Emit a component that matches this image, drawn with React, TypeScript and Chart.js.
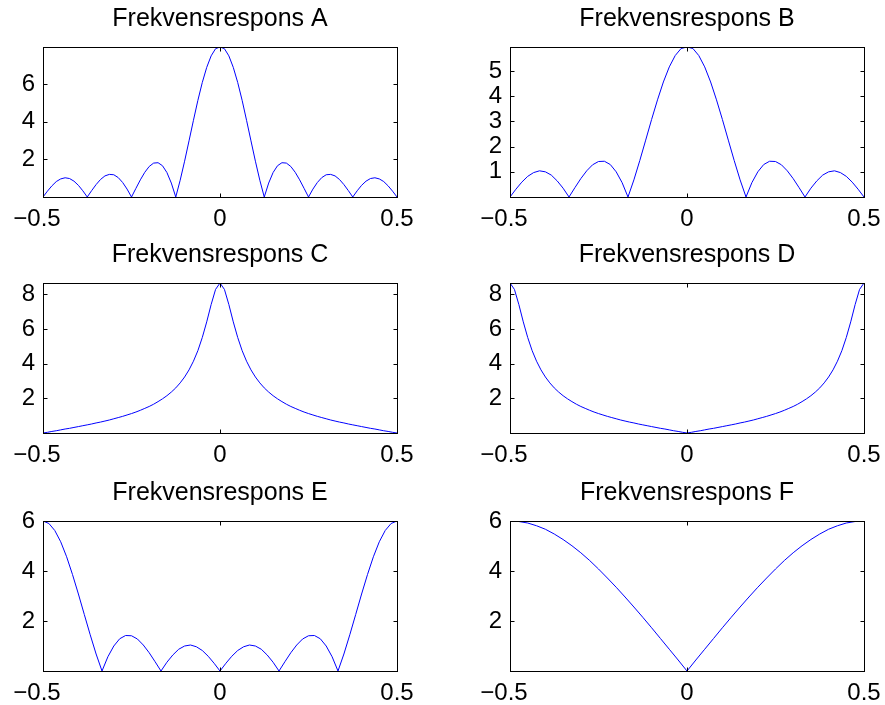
import React, { useEffect, useRef } from "react";
import { Chart, registerables } from "chart.js";

Chart.register(...registerables);

const FONT = "'Liberation Sans', Arial, Helvetica, sans-serif";

// Normalised frequency grids (cycles/sample)
const freqFine = [
  -0.5, -0.4875, -0.475, -0.4625, -0.45, -0.4375, -0.425, -0.4125, -0.4, -0.3875,
  -0.375, -0.3625, -0.35, -0.3375, -0.325, -0.3125, -0.3, -0.2875, -0.275, -0.2625,
  -0.25, -0.2375, -0.225, -0.2125, -0.2, -0.1875, -0.175, -0.1625, -0.15, -0.1375,
  -0.125, -0.1125, -0.1, -0.0875, -0.075, -0.0625, -0.05, -0.0375, -0.025, -0.0125,
  0,
  0.0125, 0.025, 0.0375, 0.05, 0.0625, 0.075, 0.0875, 0.1, 0.1125, 0.125,
  0.1375, 0.15, 0.1625, 0.175, 0.1875, 0.2, 0.2125, 0.225, 0.2375, 0.25,
  0.2625, 0.275, 0.2875, 0.3, 0.3125, 0.325, 0.3375, 0.35, 0.3625, 0.375,
  0.3875, 0.4, 0.4125, 0.425, 0.4375, 0.45, 0.4625, 0.475, 0.4875, 0.5,
];

const freqSixtieths = [
  -0.5, -0.4833, -0.4667, -0.45, -0.4333, -0.4167, -0.4, -0.3833, -0.3667, -0.35,
  -0.3333, -0.3167, -0.3, -0.2833, -0.2667, -0.25, -0.2333, -0.2167, -0.2, -0.1833,
  -0.1667, -0.15, -0.1333, -0.1167, -0.1, -0.0833, -0.0667, -0.05, -0.0333, -0.0167,
  0,
  0.0167, 0.0333, 0.05, 0.0667, 0.0833, 0.1, 0.1167, 0.1333, 0.15, 0.1667,
  0.1833, 0.2, 0.2167, 0.2333, 0.25, 0.2667, 0.2833, 0.3, 0.3167, 0.3333,
  0.35, 0.3667, 0.3833, 0.4, 0.4167, 0.4333, 0.45, 0.4667, 0.4833, 0.5,
];

const freqCoarse = [
  -0.5, -0.475, -0.45, -0.425, -0.4, -0.375, -0.35, -0.325, -0.3, -0.275,
  -0.25, -0.225, -0.2, -0.175, -0.15, -0.125, -0.1, -0.075, -0.05, -0.025,
  0,
  0.025, 0.05, 0.075, 0.1, 0.125, 0.15, 0.175, 0.2, 0.225, 0.25,
  0.275, 0.3, 0.325, 0.35, 0.375, 0.4, 0.425, 0.45, 0.475, 0.5,
];

// Magnitudes
const responseA = [
  0, 0.31, 0.59, 0.82, 0.96, 1.02, 0.98, 0.84, 0.62, 0.33,
  0, 0.34, 0.66, 0.93, 1.12, 1.2, 1.18, 1.03, 0.77, 0.42,
  0, 0.46, 0.91, 1.31, 1.62, 1.8, 1.82, 1.66, 1.3, 0.74,
  0, 0.89, 1.9, 2.98, 4.07, 5.13, 6.08, 6.88, 7.49, 7.87,
  7.96,
  7.87, 7.49, 6.88, 6.08, 5.13, 4.07, 2.98, 1.9, 0.89, 0,
  0.74, 1.3, 1.66, 1.82, 1.8, 1.62, 1.31, 0.91, 0.46, 0,
  0.42, 0.77, 1.03, 1.18, 1.2, 1.12, 0.93, 0.66, 0.34, 0,
  0.33, 0.62, 0.84, 0.98, 1.02, 0.96, 0.82, 0.59, 0.31, 0,
];

const responseB = [
  0, 0.31, 0.59, 0.82, 0.97, 1.04, 1.0, 0.87, 0.64, 0.35,
  0, 0.37, 0.73, 1.04, 1.28, 1.41, 1.42, 1.29, 1.0, 0.57,
  0, 0.68, 1.45, 2.26, 3.08, 3.86, 4.57, 5.17, 5.62, 5.9,
  5.96,
  5.9, 5.62, 5.17, 4.57, 3.86, 3.08, 2.26, 1.45, 0.68, 0,
  0.57, 1.0, 1.29, 1.42, 1.41, 1.28, 1.04, 0.73, 0.37, 0,
  0.35, 0.64, 0.87, 1.0, 1.04, 0.97, 0.82, 0.59, 0.31, 0,
];

const responseC = [
  0, 0.04, 0.09, 0.13, 0.18, 0.23, 0.27, 0.32, 0.37, 0.42,
  0.47, 0.52, 0.58, 0.63, 0.69, 0.75, 0.82, 0.89, 0.96, 1.04,
  1.12, 1.21, 1.31, 1.42, 1.53, 1.66, 1.81, 1.97, 2.15, 2.36,
  2.6, 2.89, 3.23, 3.64, 4.14, 4.75, 5.51, 6.41, 7.41, 8.28,
  8.65,
  8.28, 7.41, 6.41, 5.51, 4.75, 4.14, 3.64, 3.23, 2.89, 2.6,
  2.36, 2.15, 1.97, 1.81, 1.66, 1.53, 1.42, 1.31, 1.21, 1.12,
  1.04, 0.96, 0.89, 0.82, 0.75, 0.69, 0.63, 0.58, 0.52, 0.47,
  0.42, 0.37, 0.32, 0.27, 0.23, 0.18, 0.13, 0.09, 0.04, 0,
];

const responseD = [
  8.65, 8.28, 7.41, 6.41, 5.51, 4.75, 4.14, 3.64, 3.23, 2.89,
  2.6, 2.36, 2.15, 1.97, 1.81, 1.66, 1.53, 1.42, 1.31, 1.21,
  1.12, 1.04, 0.96, 0.89, 0.82, 0.75, 0.69, 0.63, 0.58, 0.52,
  0.47, 0.42, 0.37, 0.32, 0.27, 0.23, 0.18, 0.13, 0.09, 0.04,
  0,
  0.04, 0.09, 0.13, 0.18, 0.23, 0.27, 0.32, 0.37, 0.42, 0.47,
  0.52, 0.58, 0.63, 0.69, 0.75, 0.82, 0.89, 0.96, 1.04, 1.12,
  1.21, 1.31, 1.42, 1.53, 1.66, 1.81, 1.97, 2.15, 2.36, 2.6,
  2.89, 3.23, 3.64, 4.14, 4.75, 5.51, 6.41, 7.41, 8.28, 8.65,
];

const responseE = [
  6.0, 5.9, 5.62, 5.17, 4.57, 3.86, 3.08, 2.26, 1.45, 0.68,
  0, 0.57, 1.0, 1.29, 1.42, 1.41, 1.28, 1.04, 0.73, 0.37,
  0, 0.35, 0.64, 0.87, 1.0, 1.04, 0.97, 0.82, 0.59, 0.31,
  0,
  0.31, 0.59, 0.82, 0.97, 1.04, 1.0, 0.87, 0.64, 0.35, 0,
  0.37, 0.73, 1.04, 1.28, 1.41, 1.42, 1.29, 1.0, 0.57, 0,
  0.68, 1.45, 2.26, 3.08, 3.86, 4.57, 5.17, 5.62, 5.9, 6.0,
];

const responseF = [
  6.0, 5.98, 5.92, 5.81, 5.67, 5.48, 5.26, 5.01, 4.73, 4.42,
  4.08, 3.72, 3.35, 2.96, 2.56, 2.15, 1.73, 1.3, 0.87, 0.44,
  0,
  0.44, 0.87, 1.3, 1.73, 2.15, 2.56, 2.96, 3.35, 3.72, 4.08,
  4.42, 4.73, 5.01, 5.26, 5.48, 5.67, 5.81, 5.92, 5.98, 6.0,
];

const xTickValues = [-0.5, 0, 0.5];
const xTickLabels = ["\u22120.5\u2002", "0", "0.5"];

const yTicksA = [2, 4, 6];
const yTicksB = [1, 2, 3, 4, 5];
const yTicksC = [2, 4, 6, 8];
const yTicksD = [2, 4, 6, 8];
const yTicksE = [2, 4, 6];
const yTicksF = [2, 4, 6];

const yMaxA = 7.96;
const yMaxB = 5.96;
const yMaxC = 8.65;
const yMaxD = 8.65;
const yMaxE = 6;
const yMaxF = 6;

const titles = [
  "Frekvensrespons A",
  "Frekvensrespons B",
  "Frekvensrespons C",
  "Frekvensrespons D",
  "Frekvensrespons E",
  "Frekvensrespons F",
];

type Panel = {
  title: string;
  freq: number[];
  values: number[];
  yMax: number;
  yTicks: number[];
  col: number;
  row: number;
};

const panels: Panel[] = [
  { title: titles[0], freq: freqFine, values: responseA, yMax: yMaxA, yTicks: yTicksA, col: 0, row: 0 },
  { title: titles[1], freq: freqSixtieths, values: responseB, yMax: yMaxB, yTicks: yTicksB, col: 1, row: 0 },
  { title: titles[2], freq: freqFine, values: responseC, yMax: yMaxC, yTicks: yTicksC, col: 0, row: 1 },
  { title: titles[3], freq: freqFine, values: responseD, yMax: yMaxD, yTicks: yTicksD, col: 1, row: 1 },
  { title: titles[4], freq: freqSixtieths, values: responseE, yMax: yMaxE, yTicks: yTicksE, col: 0, row: 2 },
  { title: titles[5], freq: freqCoarse, values: responseF, yMax: yMaxF, yTicks: yTicksF, col: 1, row: 2 },
];

// Layout geometry
const colLeft = [0, 440];
const colWidth = [420, 445];
const colAxisWidth = [43, 70];
const colPadRight = [23, 21];
const rowTop = [0, 236, 474];
const CANVAS_H = 233;
const X_AXIS_H = 36;
const TICK_LEN = 4;

const matlabAxes = {
  id: "matlabAxes",
  afterDraw(chart: any) {
    const { ctx, chartArea, scales } = chart;
    const l = Math.round(chartArea.left) + 0.5;
    const r = Math.round(chartArea.right) + 0.5;
    const t = Math.round(chartArea.top) + 0.5;
    const b = Math.round(chartArea.bottom) + 0.5;
    ctx.save();
    ctx.strokeStyle = "#000";
    ctx.lineWidth = 1;
    ctx.strokeRect(l, t, r - l, b - t);
    ctx.beginPath();
    const yTicks: number[] = chart.options.plugins.matlabAxes.yTicks;
    for (const v of yTicks) {
      const py = Math.round(scales.y.getPixelForValue(v)) + 0.5;
      ctx.moveTo(l, py);
      ctx.lineTo(l + TICK_LEN, py);
      ctx.moveTo(r, py);
      ctx.lineTo(r - TICK_LEN, py);
    }
    for (const v of xTickValues) {
      const px = Math.round(scales.x.getPixelForValue(v)) + 0.5;
      ctx.moveTo(px, b);
      ctx.lineTo(px, b - TICK_LEN);
      ctx.moveTo(px, t);
      ctx.lineTo(px, t + TICK_LEN);
    }
    ctx.stroke();
    ctx.restore();
  },
};

function PanelChart({ p }: { p: Panel }) {
  const ref = useRef<HTMLCanvasElement | null>(null);
  useEffect(() => {
    if (!ref.current) return;
    const data = p.freq.map((f, i) => ({ x: f, y: p.values[i] }));
    const chart = new Chart(ref.current, {
      type: "line",
      data: {
        datasets: [
          {
            data,
            borderColor: "#0000ff",
            borderWidth: 1,
            pointRadius: 0,
            tension: 0,
            fill: false,
          },
        ],
      },
      options: {
        animation: false,
        responsive: false,
        maintainAspectRatio: false,
        events: [],
        layout: { padding: { top: 4.3, left: 0, right: colPadRight[p.col], bottom: 0 } },
        plugins: {
          legend: { display: false },
          tooltip: { enabled: false },
          title: {
            display: true,
            text: p.title,
            fullSize: false,
            color: "#000",
            font: { family: FONT, size: 25, weight: "normal", lineHeight: 1.2 },
            padding: { top: 0, bottom: 12.7 },
          },
          matlabAxes: { yTicks: p.yTicks },
        } as any,
        scales: {
          x: {
            type: "linear",
            min: -0.5,
            max: 0.5,
            grid: { display: false, drawTicks: false },
            border: { display: false },
            afterBuildTicks: (s: any) => {
              s.ticks = xTickValues.map((v) => ({ value: v }));
            },
            afterFit: (s: any) => {
              s.height = X_AXIS_H;
              s.paddingLeft = 0;
              s.paddingRight = 0;
            },
            ticks: {
              autoSkip: false,
              maxRotation: 0,
              minRotation: 0,
              padding: 8,
              color: "#000",
              font: { family: FONT, size: 24 },
              callback: (_v: any, i: number) => xTickLabels[i],
            },
          },
          y: {
            type: "linear",
            min: 0,
            max: p.yMax,
            grid: { display: false, drawTicks: false },
            border: { display: false },
            afterBuildTicks: (s: any) => {
              s.ticks = p.yTicks.map((v) => ({ value: v }));
            },
            afterFit: (s: any) => {
              s.width = colAxisWidth[p.col];
              s.paddingTop = 0;
              s.paddingBottom = 0;
            },
            ticks: {
              autoSkip: false,
              padding: 8,
              color: "#000",
              font: { family: FONT, size: 24 },
              callback: (v: any) => String(v),
            },
          },
        },
      },
      plugins: [matlabAxes],
    } as any);
    return () => chart.destroy();
  }, [p]);

  const w = colWidth[p.col];
  return (
    <canvas
      ref={ref}
      width={w}
      height={CANVAS_H}
      style={{
        position: "absolute",
        left: colLeft[p.col],
        top: rowTop[p.row],
        width: w,
        height: CANVAS_H,
      }}
    />
  );
}

export default function App() {
  return (
    <div
      style={{
        position: "fixed",
        left: 0,
        top: 0,
        width: 885,
        height: 705,
        background: "#fff",
        overflow: "hidden",
      }}
    >
      {panels.map((p) => (
        <PanelChart key={p.title} p={p} />
      ))}
    </div>
  );
}
